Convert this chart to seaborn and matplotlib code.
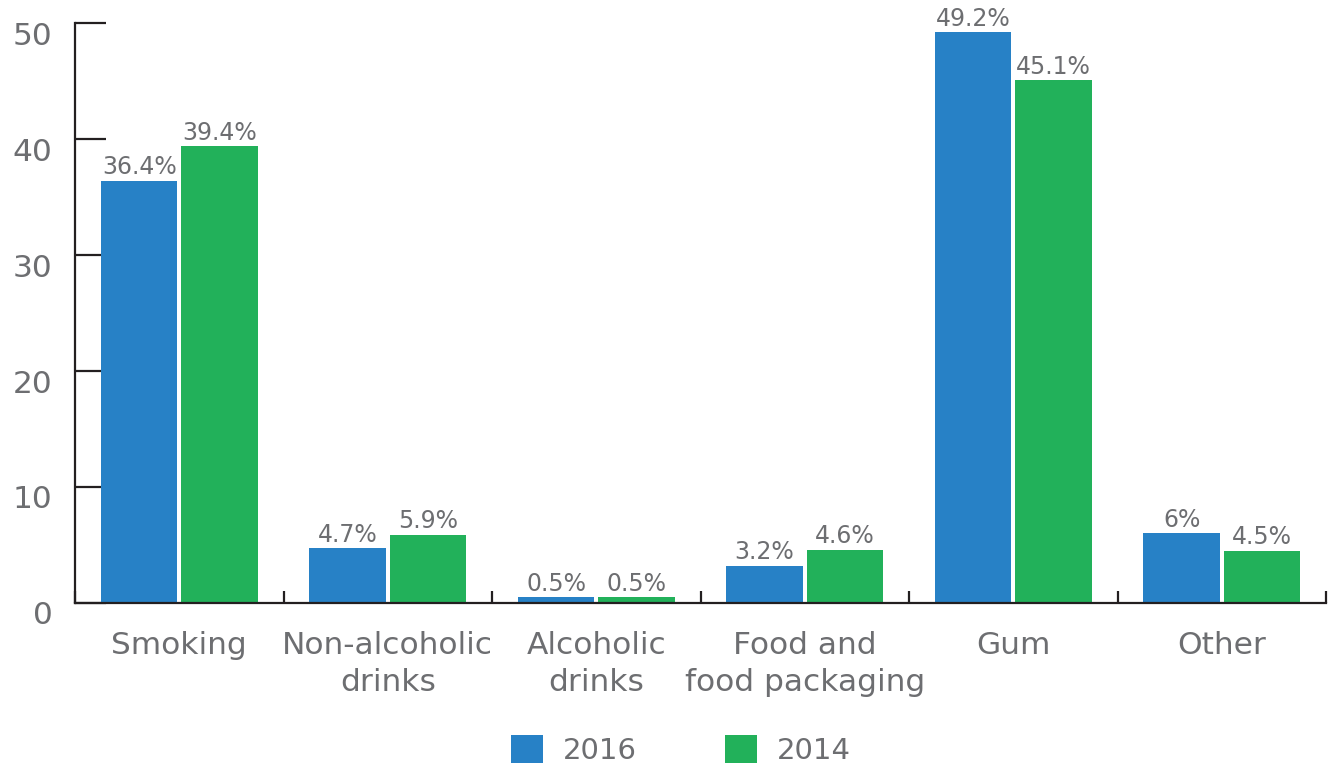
import matplotlib
matplotlib.use("Agg")
import matplotlib.transforms as mtransforms
import numpy as np
import pandas as pd
import seaborn as sns
from matplotlib import pyplot as plt
from matplotlib.patches import Patch

# data
categories = ["Smoking", "Non-alcoholic\ndrinks", "Alcoholic\ndrinks",
              "Food and\nfood packaging", "Gum", "Other"]
years = ["2016", "2014"]
values_2016 = [36.4, 4.7, 0.5, 3.2, 49.2, 6.0]
values_2014 = [39.4, 5.9, 0.5, 4.6, 45.1, 4.5]
y_ticks = [0, 10, 20, 30, 40, 50]

colors = {"2016": "#2781c6", "2014": "#22b15a"}
text_color = "#6d6e71"
axis_color = "#231f20"

df = pd.DataFrame({
    "category": categories * 2,
    "year": [years[0]] * len(categories) + [years[1]] * len(categories),
    "value": values_2016 + values_2014,
})

sns.set_style("white")
plt.rcParams["font.family"] = ["DejaVu Sans"]

fig = plt.figure(figsize=(13.3, 7.72), dpi=100)
ax = fig.add_axes([0.0564, 0.219, 0.9406, 0.751])

sns.barplot(data=df, x="category", y="value", hue="year", order=categories,
            hue_order=years, palette=colors, width=0.77, gap=0.05,
            saturation=1, linewidth=0, ax=ax, legend=False)

# value labels above bars
for cont, vals in zip(ax.containers, [values_2016, values_2014]):
    ax.bar_label(cont, labels=[f"{v:g}%" for v in vals], padding=1,
                 fontsize=17, color=text_color)

ax.set_xlim(-0.5, len(categories) - 0.5)
ax.set_ylim(0, 50)
ax.set_xlabel("")
ax.set_ylabel("")

for side in ["top", "right"]:
    ax.spines[side].set_visible(False)
for side in ["left", "bottom"]:
    ax.spines[side].set_color(axis_color)
    ax.spines[side].set_linewidth(1.6)

ax.set_yticks(y_ticks)
ax.tick_params(axis="y", left=True, direction="in", length=22, width=1.6,
               color=axis_color, labelsize=22.5, labelcolor=text_color, pad=16)
ax.tick_params(axis="x", which="major", bottom=True, length=0, labelsize=22.5,
               labelcolor=text_color, pad=20)
ax.set_xticks(np.arange(-0.5, len(categories), 1.0), minor=True)
ax.tick_params(axis="x", which="minor", bottom=True, direction="in", length=9,
               width=1.6, color=axis_color)
for lab in ax.get_xticklabels():
    lab.set_linespacing(1.38)

# y labels sit a bit below their ticks
offset = mtransforms.ScaledTranslation(0, -10 / 100, fig.dpi_scale_trans)
for lab in ax.get_yticklabels():
    lab.set_transform(lab.get_transform() + offset)

handles = [Patch(facecolor=colors[y], edgecolor="none") for y in years]
fig.legend(handles, years, loc="lower center", bbox_to_anchor=(0.512, -0.025),
           ncol=2, frameon=False, fontsize=21, labelcolor=text_color,
           handlelength=1.1, handleheight=1.1, handletextpad=0.7,
           columnspacing=3.0)

fig.savefig("out.png", dpi=100)
